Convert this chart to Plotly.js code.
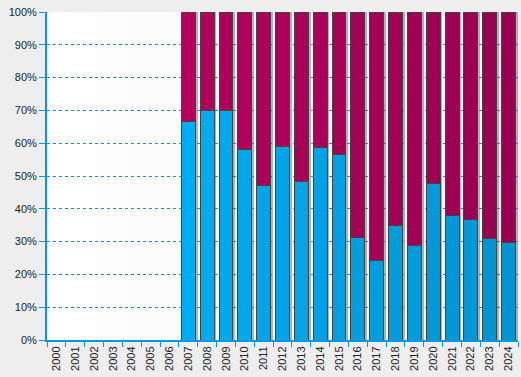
<!DOCTYPE html>
<html><head><meta charset="utf-8">
<script src="https://cdn.plot.ly/plotly-3.0.1.min.js"></script>
<style>
html,body{margin:0;padding:0;background:#eeeeee;}
#wrap{position:relative;width:521px;height:377px;}
#bg{position:absolute;left:47px;top:12px;width:471px;height:328px;background:linear-gradient(to right,#ffffff,#f2f2f2);}
#chart{position:absolute;left:0;top:0;width:521px;height:377px;}
</style></head>
<body><div id="wrap"><div id="bg"></div><div id="chart"></div></div>
<script>
const years = ['2000','2001','2002','2003','2004','2005','2006','2007','2008','2009','2010','2011','2012','2013','2014','2015','2016','2017','2018','2019','2020','2021','2022','2023','2024'];
const blueShare = [null,null,null,null,null,null,null,66.5,70.1,70.1,58.0,47.2,59.0,48.3,58.7,56.6,31.3,24.3,34.9,28.8,47.8,37.9,36.8,31.0,29.7];
const magentaShare = blueShare.map(v => v === null ? null : 100 - v);
const shadow = blueShare.map(v => v === null ? null : 100);

function lerpColor(a, b, t) {
  const pa = a.match(/\w\w/g).map(h => parseInt(h, 16));
  const pb = b.match(/\w\w/g).map(h => parseInt(h, 16));
  return 'rgb(' + pa.map((c, i) => Math.round(c + (pb[i] - c) * t)).join(',') + ')';
}
const n = years.length;
const blueCols = years.map((_, i) => lerpColor('00b6ff', '0094d2', i / (n - 1)));
const magCols = years.map((_, i) => lerpColor('c00062', '990050', i / (n - 1)));

const W = 0.74;
const traces = [
  {type:'bar', x:years, y:shadow, xaxis:'x', yaxis:'y', width:W, offset:-W/2 + 0.12,
   marker:{color:'rgba(90,90,90,0.45)', line:{width:0}}, hoverinfo:'skip', showlegend:false},
  {type:'bar', x:years, y:blueShare, xaxis:'x2', yaxis:'y', width:W,
   marker:{color:blueCols, line:{color:'#444444', width:1}}, showlegend:false},
  {type:'bar', x:years, y:magentaShare, xaxis:'x2', yaxis:'y', width:W,
   marker:{color:magCols, line:{color:'#444444', width:1}}, showlegend:false}
];
const fnt = {family:'Arial, "Liberation Sans", sans-serif', size:11, color:'#222222'};
const layout = {
  width:521, height:377,
  margin:{l:47, r:3, t:12, b:37, pad:0},
  paper_bgcolor:'rgba(0,0,0,0)', plot_bgcolor:'rgba(0,0,0,0)',
  barmode:'stack', font:fnt,
  xaxis:{type:'category', range:[-0.5, 24.5], tickangle:-90, ticks:'outside', ticklen:5,
    tickcolor:'#0099dd', tickson:'boundaries', showgrid:false, showline:true,
    linecolor:'#0099dd', linewidth:2, zeroline:false, tickfont:fnt, fixedrange:true},
  xaxis2:{type:'category', overlaying:'x', matches:'x', range:[-0.5, 24.5], visible:false},
  yaxis:{range:[0, 100], dtick:10, ticksuffix:'%', ticks:'outside', ticklen:6, tickcolor:'#0099dd',
    showline:true, linecolor:'#0099dd', linewidth:2, gridcolor:'#0099dd', griddash:'dot',
    gridwidth:1, zeroline:false, tickfont:fnt, fixedrange:true},
  showlegend:false
};
Plotly.newPlot('chart', traces, layout, {displayModeBar:false, staticPlot:true});
</script></body></html>
